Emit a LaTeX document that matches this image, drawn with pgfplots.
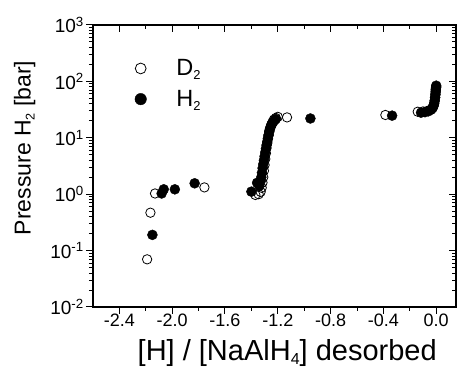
\documentclass[border=0pt]{standalone}
\usepackage{pgfplots}
\pgfplotsset{compat=1.18}
\usepackage{graphicx}
\usepackage{fontspec}
\setmainfont{Liberation Sans}
\newcommand{\sub}[1]{\raisebox{-4pt}{\scalebox{0.55}{#1}}}

\pgfplotstableread{
x y
-2.19 0.07
-2.165 0.47
-2.13 1.03
-1.756 1.32
-1.37 0.97
-1.345 1.0
-1.33 1.1
-1.322 1.3
-1.316 1.6
-1.31 2.0
-1.305 2.6
-1.300 3.3
-1.295 4.2
-1.29 5.3
-1.285 6.6
-1.28 8.0
-1.275 9.5
-1.27 11
-1.265 13
-1.258 15
-1.25 17
-1.24 19
-1.23 21
-1.215 22.5
-1.20 23.5
-1.13 23
-0.385 25.4
-0.14 29
-0.10 29.3
-0.07 29.8
-0.045 31
-0.03 33
-0.022 36
-0.016 40
-0.012 45
-0.009 52
-0.006 60
-0.004 68
-0.002 75
0.0 80
}\dtwo

\pgfplotstableread{
x y
-2.15 0.19
-2.08 1.03
-2.064 1.22
-1.98 1.22
-1.83 1.56
-1.40 1.11
-1.357 1.59
-1.34 1.4
-1.33 1.7
-1.325 2.0
-1.32 2.4
-1.315 2.9
-1.31 3.4
-1.305 4.0
-1.30 4.7
-1.295 5.5
-1.29 6.4
-1.285 7.4
-1.28 8.5
-1.275 9.8
-1.27 11.2
-1.265 12.7
-1.26 14.2
-1.252 16
-1.245 17.5
-1.235 19
-1.225 20.5
-1.215 21.5
-0.953 22
-0.334 24.7
-0.115 27.9
-0.085 28.5
-0.06 29.5
-0.04 31.5
-0.028 34
-0.02 37
-0.015 41
-0.011 46
-0.008 52
-0.006 58
-0.004 65
-0.003 72
-0.001 79
0.0 84
}\htwo

\begin{document}
\begin{tikzpicture}
\begin{axis}[
  name=main,
  scale only axis, width=363pt, height=282pt,
  xmin=-2.6, xmax=0.15, ymode=log, ymin=1e-2, ymax=1e3,
  xtick={-2.4,-2.0,-1.6,-1.2,-0.8,-0.4,0.0},
  minor xtick={-2.2,-1.8,-1.4,-1.0,-0.6,-0.2},
  ytick={1e-2,1e-1,1,10,100,1000},
  minor ytick={0.02,0.03,0.04,0.05,0.06,0.07,0.08,0.09,
               0.2,0.3,0.4,0.5,0.6,0.7,0.8,0.9,
               2,3,4,5,6,7,8,9,
               20,30,40,50,60,70,80,90,
               200,300,400,500,600,700,800,900},
  major tick length=7pt, minor tick length=4pt,
  axis line style={line width=1.2pt},
  every tick/.style={black, line width=1pt},
  tick align=outside, xtick pos=left, ytick pos=left,
  xticklabels={-2.4,-2.0,-1.6,-1.2,-0.8,-0.4,0.0},
  yticklabels={10\textsuperscript{-2},10\textsuperscript{-1},10\textsuperscript{0},10\textsuperscript{1},10\textsuperscript{2},10\textsuperscript{3}},
  xticklabel style={font=\fontsize{18}{20}\selectfont, inner sep=2pt, yshift=2pt},
  yticklabel style={font=\fontsize{19}{21}\selectfont, inner sep=2pt},
  xlabel={[H] / [NaAlH\sub{4}] desorbed},
  ylabel={Pressure H\sub{2} [bar]},
  xlabel style={font=\fontsize{29}{31}\selectfont, at={(axis description cs:0.535,-0.19)}, anchor=base},
  ylabel style={font=\fontsize{23}{26}\selectfont, at={(axis description cs:-0.172,0.564)}, anchor=base},
  legend style={at={(axis description cs:0.115,0.885)}, anchor=north west,
    draw=none, fill=none, font=\fontsize{23.5}{26}\selectfont,
    row sep=9pt, inner sep=0pt,
    /tikz/every odd column/.append style={column sep=28pt}},
  legend cell align=left,
  legend image post style={scale=1.15},
]
\addplot[only marks, mark=o, mark size=4.7pt, mark options={fill=white, line width=0.8pt}] table[x=x,y=y] {\dtwo};
\addlegendentry{D\sub{2}}
\addplot[only marks, mark=*, mark size=5pt, mark options={fill=black}] table[x=x,y=y] {\htwo};
\addlegendentry{H\sub{2}}
\end{axis}
\begin{axis}[
  scale only axis, width=363pt, height=282pt,
  xmin=-2.6, xmax=0.15, ymode=log, ymin=1e-2, ymax=1e3,
  xtick={-2.4,-2.0,-1.6,-1.2,-0.8,-0.4,0.0},
  minor xtick={-2.2,-1.8,-1.4,-1.0,-0.6,-0.2},
  ytick={1e-2,1e-1,1,10,100,1000},
  minor ytick={0.02,0.03,0.04,0.05,0.06,0.07,0.08,0.09,
               0.2,0.3,0.4,0.5,0.6,0.7,0.8,0.9,
               2,3,4,5,6,7,8,9,
               20,30,40,50,60,70,80,90,
               200,300,400,500,600,700,800,900},
  major tick length=7pt, minor tick length=4pt,
  axis line style={line width=1.2pt},
  every tick/.style={black, line width=1pt},
  tick align=inside, xtick pos=right, ytick pos=right,
  xticklabels={}, yticklabels={},
]
\end{axis}
\pgfresetboundingbox
\path[use as bounding box] ([xshift=-93pt,yshift=-70pt]main.south west) rectangle ([xshift=3pt,yshift=25pt]main.north east);
\end{tikzpicture}
\end{document}
